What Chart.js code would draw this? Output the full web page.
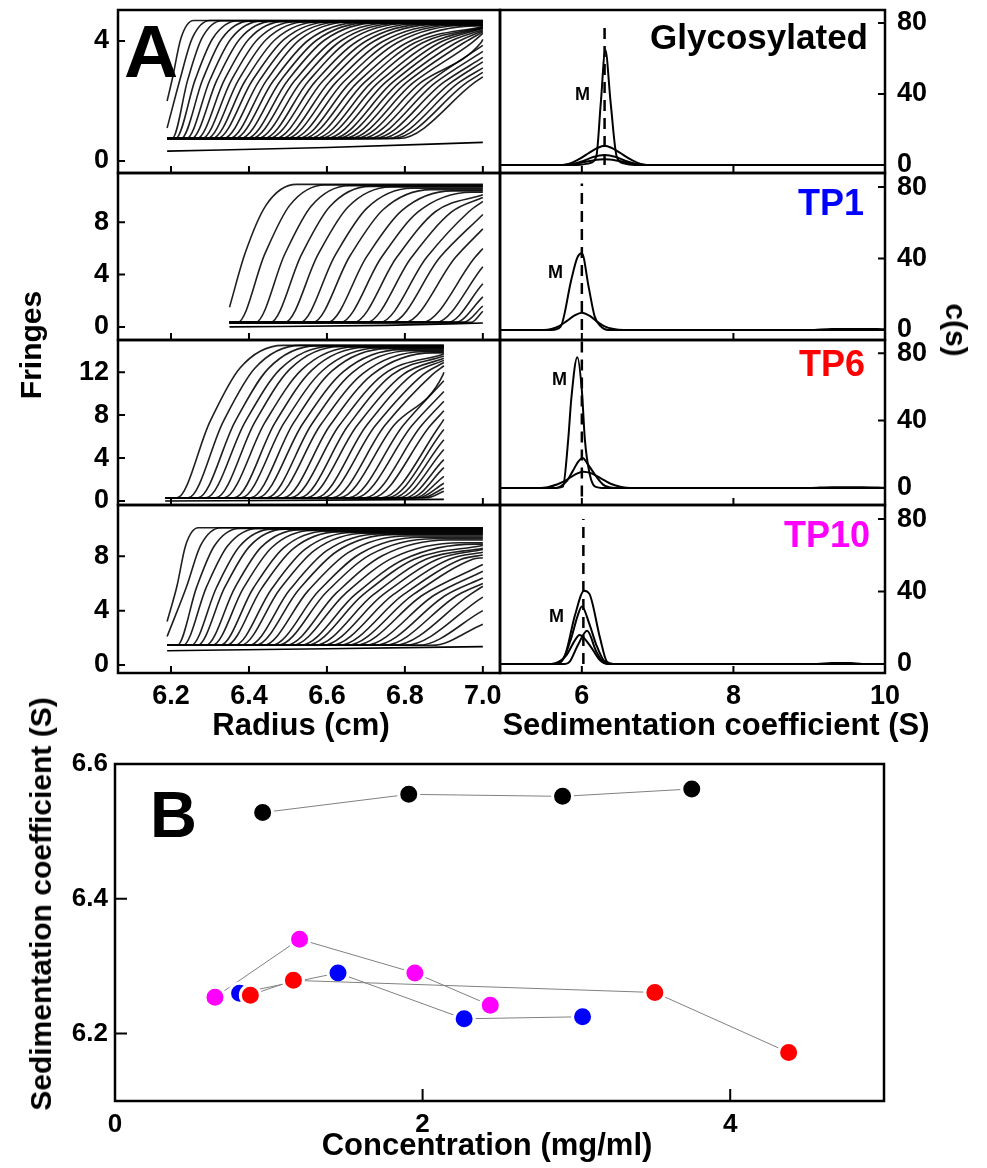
<!DOCTYPE html>
<html>
<head>
<meta charset="utf-8">
<title>Sedimentation velocity of glycosylated and TP samples</title>
<script src="https://cdn.jsdelivr.net/npm/chart.js@4.4.1/dist/chart.umd.min.js"></script>
<style>
  body { margin: 0; background: #fff; }
  #page { position: relative; width: 987px; height: 1168px; overflow: hidden;
          font-family: "Liberation Sans", Arial, Helvetica, sans-serif; font-weight: bold; }
  #page canvas { position: absolute; }
  .t { position: absolute; line-height: 1; white-space: nowrap; }
</style>
</head>
<body>
<div id="page"></div>
<script>
// ---------- tick labels ----------
const radiusTicks = [6.2, 6.4, 6.6, 6.8, 7.0];
const sTicks = [6, 8, 10];
const csTicks = [0, 40, 80];
const concTicks = [0, 2, 4];
const sedTicks = [6.2, 6.4, 6.6];

// ---------- interference scans (radius cm -> fringes) ----------
// boundary midpoint, boundary width and value at the last radius of every scan
const glyMid = [6.203, 6.223, 6.243, 6.262, 6.281, 6.3, 6.318, 6.337, 6.355, 6.373, 6.391, 6.409, 6.427, 6.445,
  6.463, 6.481, 6.499, 6.517, 6.535, 6.553, 6.571, 6.589, 6.607, 6.625, 6.643, 6.661, 6.679, 6.697, 6.715,
  6.733, 6.751, 6.769, 6.787, 6.805, 6.823, 6.842, 6.861, 6.88, 6.9, 6.92, 6.94, 6.96, 6.98];
const glySpan = [0.05, 0.07, 0.08, 0.1, 0.11, 0.12, 0.13, 0.14, 0.15, 0.16, 0.17, 0.18, 0.185, 0.19, 0.2,
  0.205, 0.21, 0.22, 0.225, 0.23, 0.24, 0.245, 0.25, 0.26, 0.265, 0.27, 0.28, 0.285, 0.29, 0.3, 0.305, 0.31,
  0.32, 0.325, 0.33, 0.34, 0.345, 0.35, 0.36, 0.365, 0.37, 0.38, 0.39];
const glyEnd = [4.68, 4.68, 4.67, 4.67, 4.66, 4.66, 4.65, 4.65, 4.64, 4.64, 4.63, 4.63, 4.62, 4.62, 4.61, 4.6,
  4.6, 4.59, 4.58, 4.58, 4.57, 4.56, 4.55, 4.54, 4.53, 4.52, 4.5, 4.48, 4.46, 4.44, 4.42, 4.38, 4.34, 4.3,
  4.25, 4.05, 3.85, 3.65, 3.45, 3.3, 3.1, 2.95, 2.8];
const glyStart = [2.0, 1.1];
const glyFloor = [[6.19, 0.33], [6.6, 0.45], [7.0, 0.62]];

const tp1Mid = [6.39, 6.441, 6.492, 6.535, 6.577, 6.621, 6.659, 6.702, 6.74, 6.779, 6.817, 6.856, 6.89, 6.93,
  6.98, 7.03, 7.08, 7.12, 7.16, 7.2];
const tp1Span = [0.12, 0.14, 0.15, 0.16, 0.17, 0.18, 0.19, 0.2, 0.21, 0.22, 0.23, 0.24, 0.25, 0.26, 0.27,
  0.3, 0.34, 0.38, 0.42, 0.46];
const tp1End = [10.9, 10.85, 10.8, 10.75, 10.7, 10.6, 10.5, 10.4, 10.3, 10.1, 9.9, 9.6, 8.6, 7.5, 6.0, 4.6,
  3.3, 2.3, 1.6, 1.2];
const tp1Start = [1.5];
const tp1Floor = [[6.35, 0.0], [6.75, 0.12], [7.0, 0.3]];

const tp6Mid = [6.30, 6.334, 6.364, 6.39, 6.415, 6.441, 6.467, 6.49, 6.514, 6.538, 6.561, 6.584, 6.608, 6.632,
  6.655, 6.678, 6.702, 6.725, 6.749, 6.772, 6.796, 6.819, 6.843, 6.866, 6.89, 6.915, 6.94, 6.965, 6.99, 7.015,
  7.04, 7.065, 7.09, 7.115];
const tp6Span = [0.17, 0.18, 0.19, 0.2, 0.2, 0.21, 0.21, 0.22, 0.22, 0.23, 0.23, 0.24, 0.24, 0.25, 0.25, 0.26,
  0.26, 0.27, 0.27, 0.28, 0.28, 0.29, 0.29, 0.3, 0.3, 0.32, 0.34, 0.36, 0.38, 0.4, 0.43, 0.46, 0.49, 0.52];
const tp6End = [14.5, 14.5, 14.45, 14.4, 14.4, 14.35, 14.3, 14.25, 14.2, 14.1, 14.0, 13.9, 13.8, 13.7, 13.5,
  13.3, 13.1, 12.9, 12.6, 12.0, 11.2, 10.2, 9.3, 8.4, 7.6, 6.65, 5.7, 4.8, 3.85, 3.1, 2.3, 1.65, 1.2, 0.9];
const tp6Start = [];
const tp6Floor = [[6.185, 0.0], [6.6, 0.08], [6.9, 0.15]];

const tp10Mid = [6.215, 6.24, 6.266, 6.291, 6.317, 6.338, 6.364, 6.386, 6.411, 6.432, 6.458, 6.479, 6.505,
  6.527, 6.552, 6.578, 6.599, 6.625, 6.646, 6.672, 6.693, 6.719, 6.744, 6.77, 6.796, 6.821, 6.847, 6.877,
  6.907, 6.937, 6.967, 7.0, 7.04, 7.08];
const tp10Span = [0.05, 0.08, 0.1, 0.12, 0.13, 0.14, 0.15, 0.16, 0.17, 0.18, 0.19, 0.2, 0.21, 0.22, 0.23, 0.24,
  0.25, 0.26, 0.27, 0.28, 0.29, 0.3, 0.31, 0.32, 0.33, 0.34, 0.35, 0.36, 0.37, 0.38, 0.39, 0.4, 0.41, 0.42];
const tp10End = [10.1, 10.1, 10.05, 10.05, 10.0, 10.0, 9.95, 9.9, 9.85, 9.8, 9.75, 9.7, 9.65, 9.6, 9.5, 9.4,
  9.3, 9.2, 9.0, 8.9, 8.8, 8.6, 8.5, 8.3, 8.1, 7.9, 7.4, 6.9, 6.4, 6.0, 5.8, 5.0, 4.0, 3.0];
const tp10Start = [3.2, 2.1];
const tp10Floor = [[6.19, 1.05], [6.6, 1.2], [7.0, 1.35]];

// ---------- c(s) distributions (S -> c(s)) ----------
const glyCs = [
  [[4.92, 0], [5.95, 0], [6.1, 1], [6.19, 4.7], [6.25, 35], [6.31, 64.8], [6.38, 35], [6.46, 4.7], [6.55, 1], [6.7, 0], [10, 0]],
  [[4.92, 0], [5.75, 0], [5.95, 3], [6.1, 7], [6.2, 9.5], [6.3, 10.9], [6.4, 9.5], [6.5, 7], [6.65, 3], [6.85, 0], [10, 0]],
  [[4.92, 0], [5.8, 0], [6.0, 2], [6.15, 4.5], [6.3, 5.6], [6.45, 4.5], [6.6, 2], [6.8, 0], [10, 0]],
  [[4.92, 0], [5.7, 0], [5.95, 1], [6.15, 2.6], [6.3, 3.2], [6.45, 2.6], [6.65, 1], [6.9, 0], [10, 0]]
];
const tp1Cs = [
  [[4.92, 0], [5.6, 0], [5.72, 1.9], [5.86, 28], [5.94, 40.5], [6.0, 43], [6.09, 24], [6.17, 7.5], [6.25, 2], [6.35, 0], [10, 0]],
  [[4.92, 0], [5.5, 0], [5.6, 0.6], [5.7, 2.2], [5.8, 5], [5.9, 8], [6.0, 9.7], [6.1, 8], [6.2, 4.7], [6.3, 2],
   [6.42, 0.5], [6.55, 0], [9.0, 0], [9.3, 0.6], [9.9, 0.6], [10, 0.4]]
];
const tp6Cs = [
  [[4.92, 0], [5.65, 0], [5.75, 0.8], [5.82, 28.7], [5.86, 52.5], [5.94, 77.5], [6.0, 58], [6.04, 28.7], [6.1, 9], [6.17, 1], [6.3, 0], [10, 0]],
  [[4.92, 0], [5.65, 0], [5.72, 1], [5.8, 4], [5.88, 10], [5.95, 15.5], [6.01, 17.8], [6.08, 14], [6.19, 6.8], [6.28, 2], [6.36, 0.5], [6.45, 0], [10, 0]],
  [[4.92, 0], [5.45, 0], [5.55, 0.5], [5.68, 2.2], [5.8, 4.8], [5.92, 8.2], [6.02, 9.7], [6.12, 8.8], [6.24, 6], [6.38, 2.5],
   [6.52, 0.6], [6.65, 0], [9.0, 0], [9.3, 0.5], [9.7, 0.5], [10, 0.2]]
];
const tp10Cs = [
  [[4.92, 0], [5.6, 0], [5.67, 0.8], [5.78, 5], [5.91, 27], [6.03, 40.5], [6.1, 38.7], [6.24, 14.3], [6.33, 1.3], [6.42, 0], [10, 0]],
  [[4.92, 0], [5.6, 0], [5.73, 1.3], [5.86, 14.3], [5.94, 26], [6.0, 31.8], [6.1, 22], [6.19, 10.6], [6.3, 1.3], [6.4, 0], [10, 0]],
  [[4.92, 0], [5.78, 0], [5.84, 1.3], [5.95, 10.6], [6.07, 18.3], [6.19, 6.9], [6.3, 0.5], [6.4, 0], [10, 0]],
  [[4.92, 0], [5.6, 0], [5.69, 0.8], [5.8, 5], [5.9, 12.5], [5.97, 16], [6.1, 10.6], [6.24, 2], [6.35, 0],
   [9.1, 0], [9.3, 0.5], [9.55, 0.5], [9.7, 0], [10, 0]]
];
// dashed marker: position, from, to
const glyDash = [6.30, 0, 80.6];
const tp1Dash = [6.0, 0, 82];
const tp6Dash = [6.0, -5, 88];
const tp10Dash = [6.02, 0, 80];

// ---------- panel B: s versus loading concentration ----------
const concGly = [0.96, 1.91, 2.91, 3.75];
const sGly = [6.528, 6.555, 6.552, 6.563];
const concTP1 = [0.81, 1.45, 2.27, 3.04];
const sTP1 = [6.26, 6.29, 6.222, 6.225];
const concTP6 = [0.88, 1.16, 3.51, 4.38];
const sTP6 = [6.257, 6.279, 6.261, 6.172];
const concTP10 = [0.65, 1.20, 1.95, 2.44];
const sTP10 = [6.254, 6.340, 6.290, 6.242];

// =====================================================================
const page = document.getElementById('page');
const FONT = '"Liberation Sans", Arial, Helvetica, sans-serif';
Chart.defaults.font.family = FONT;
Chart.defaults.color = '#000';

// frame box + inward tick marks
const frame = {
  id: 'frame',
  afterDraw(chart, args, o) {
    const {ctx, chartArea: a, scales} = chart;
    ctx.save();
    ctx.strokeStyle = '#000';
    ctx.lineWidth = 2.5;
    ctx.strokeRect(a.left, a.top, a.right - a.left, a.bottom - a.top);
    ctx.lineWidth = 2;
    ctx.beginPath();
    (o.xt || []).forEach(v => {
      const p = scales.x.getPixelForValue(v);
      ctx.moveTo(p, a.bottom);
      ctx.lineTo(p, a.bottom - o.len);
    });
    (o.yt || []).forEach(v => {
      const p = scales.y.getPixelForValue(v);
      if (o.side === 'right') { ctx.moveTo(a.right, p); ctx.lineTo(a.right - o.len, p); }
      else { ctx.moveTo(a.left, p); ctx.lineTo(a.left + o.len, p); }
    });
    ctx.stroke();
    ctx.restore();
  }
};

function axis(range, labels, show, pad, size, dec, horiz, position) {
  return {
    type: 'linear', position: position, min: range[0], max: range[1],
    grid: {display: false, drawTicks: false, tickLength: 0},
    border: {display: false},
    ticks: {display: show, padding: pad, color: '#000', font: {size: size, weight: 'bold'},
            maxRotation: 0, autoSkip: false, callback: v => Number(v).toFixed(dec)},
    afterBuildTicks: s => { s.ticks = labels.map(v => ({value: v})); },
    afterFit: s => { if (horiz) s.height = 45; else s.width = 50; }
  };
}

function makeChart(box, o) {
  const M = 60, YW = 50, XH = 45;
  const cv = document.createElement('canvas');
  cv.width = box.w + 2 * M;
  cv.height = box.h + 2 * M;
  cv.style.left = (box.x - M) + 'px';
  cv.style.top = (box.y - M) + 'px';
  page.appendChild(cv);
  const right = o.ySide === 'right';
  return new Chart(cv, {
    type: 'scatter',
    data: {datasets: o.datasets},
    options: {
      responsive: false, animation: false, events: [],
      layout: {padding: {left: right ? M : M - YW, right: right ? M - YW : M, top: M, bottom: M - XH}},
      plugins: {
        legend: {display: false}, tooltip: {enabled: false},
        frame: {xt: o.xMarks, yt: o.yMarks, side: o.ySide, len: o.len || 7}
      },
      scales: {
        x: axis(o.x, o.xLabels, o.xShow, o.xPad || 7, o.size || 27, o.xDec, true, 'bottom'),
        y: axis(o.y, o.yLabels, true, o.yPad || 9, o.size || 27, o.yDec, false, right ? 'right' : 'left')
      }
    },
    plugins: [frame]
  });
}

function xy(pairs) { return pairs.map(p => ({x: p[0], y: p[1]})); }

// all scans of one cell: meniscus, foot, boundary midpoint, upper knee, plateau shoulder, last radius.
// A scan whose boundary has cleared the cell keeps its end value as plateau; later scans reuse the last one.
function scanCurves(p) {
  let plateauNow = p.top;
  return p.mid.map((mid, i) => {
    const s = p.span[i], end = p.end[i];
    const hasStart = i < p.start.length;
    const foot = mid - 0.5 * s, knee = mid + 0.45 * s, sh = mid + 1.1 * s;
    if (sh < p.r1) plateauNow = end;
    const plateau = plateauNow;
    const midVal = (p.base + plateau) / 2;
    const kneeVal = p.base + 0.85 * (plateau - p.base);
    const pts = [{x: p.r0, y: hasStart ? p.start[i] : p.base}];
    if (!hasStart && foot > p.r0 + 0.004 && foot < p.r1) pts.push({x: foot, y: p.base});
    if (mid > p.r0 && mid < p.r1 && end > midVal) pts.push({x: mid, y: midVal});
    if (knee > p.r0 && knee < p.r1 && end > kneeVal) pts.push({x: knee, y: kneeVal});
    if (sh < p.r1) pts.push({x: sh, y: plateau});
    pts.push({x: p.r1, y: end});
    return pts;
  });
}

const leftX = 118, leftW = 382, rightX = 500, rightW = 385;
const rows = [[10, 163], [173, 167], [340, 165], [505, 168]];

const scanPanels = [
  {r0: 6.19, r1: 7.0, base: 0.75, top: 4.6, mid: glyMid, span: glySpan, end: glyEnd, start: glyStart, floor: glyFloor,
   y: [-0.4, 5.03], yl: [0, 4]},
  {r0: 6.35, r1: 7.0, base: 0.35, top: 10.7, mid: tp1Mid, span: tp1Span, end: tp1End, start: tp1Start, floor: tp1Floor,
   y: [-1.0, 11.77], yl: [0, 4, 8]},
  {r0: 6.185, r1: 6.9, base: 0.3, top: 14.4, mid: tp6Mid, span: tp6Span, end: tp6End, start: tp6Start, floor: tp6Floor,
   y: [-0.375, 15.0], yl: [0, 4, 8, 12]},
  {r0: 6.19, r1: 7.0, base: 1.45, top: 10.0, mid: tp10Mid, span: tp10Span, end: tp10End, start: tp10Start, floor: tp10Floor,
   y: [-0.59, 11.78], yl: [0, 4, 8]}
];
const csPanels = [
  {curves: glyCs, dash: glyDash, y: [-4.5, 87.3]},
  {curves: tp1Cs, dash: tp1Dash, y: [-5.6, 87.9]},
  {curves: tp6Cs, dash: tp6Dash, y: [-10.1, 87.8]},
  {curves: tp10Cs, dash: tp10Dash, y: [-5, 87.8]}
];

scanPanels.forEach((p, r) => {
  const ds = scanCurves(p).map(pts => ({
    data: pts, showLine: true, pointRadius: 0,
    borderColor: 'rgba(0,0,0,0.88)', borderWidth: 1.6, cubicInterpolationMode: 'monotone'
  }));
  ds.push({data: xy(p.floor), showLine: true, pointRadius: 0, borderColor: '#000', borderWidth: 1.6,
           cubicInterpolationMode: 'monotone'});
  makeChart({x: leftX, y: rows[r][0], w: leftW, h: rows[r][1]}, {
    datasets: ds, x: [6.064, 7.044], xLabels: radiusTicks, xMarks: radiusTicks, xShow: r === 3, xDec: 1,
    y: p.y, yLabels: p.yl, yMarks: p.yl, yDec: 0, ySide: 'left'
  });
});

csPanels.forEach((p, r) => {
  const ds = p.curves.map(c => ({
    data: xy(c), showLine: true, pointRadius: 0, borderColor: '#000', borderWidth: 2,
    cubicInterpolationMode: 'monotone'
  }));
  ds.push({data: [{x: p.dash[0], y: p.dash[1]}, {x: p.dash[0], y: p.dash[2]}], showLine: true, pointRadius: 0,
           borderColor: '#000', borderWidth: 2.5, borderDash: [11, 7]});
  makeChart({x: rightX, y: rows[r][0], w: rightW, h: rows[r][1]}, {
    datasets: ds, x: [4.92, 10], xLabels: sTicks, xMarks: [6, 8], xShow: r === 3, xDec: 0,
    y: p.y, yLabels: csTicks, yMarks: csTicks, yDec: 0, ySide: 'right', yPad: 12
  });
});

function bSeries(xs, ys, color) {
  return {
    data: xs.map((x, i) => ({x: x, y: ys[i]})), showLine: true,
    borderColor: '#808080', borderWidth: 1,
    pointRadius: 10, pointBorderWidth: 3, pointBorderColor: '#fff', pointBackgroundColor: color
  };
}
makeChart({x: 115, y: 764, w: 769, h: 337}, {
  datasets: [
    bSeries(concTP6, sTP6, '#ff0000'),
    bSeries(concTP1, sTP1, '#0000ff'),
    bSeries(concTP10, sTP10, '#ff00ff'),
    bSeries(concGly, sGly, '#000000')
  ],
  x: [0, 5], xLabels: concTicks, xMarks: [2, 4], xShow: true, xDec: 0, xPad: 8,
  y: [6.1, 6.6], yLabels: sedTicks, yMarks: [6.2, 6.4], yDec: 1, yPad: 7,
  ySide: 'left', size: 26, len: 12
});

// ---------- text ----------
function text(str, x, base, size, align, color) {
  const d = document.createElement('div');
  d.className = 't';
  d.textContent = str;
  d.style.fontSize = size + 'px';
  d.style.color = color || '#000';
  d.style.top = (base - 0.8465 * size) + 'px';
  if (align === 'right') d.style.right = (987 - x) + 'px';
  else if (align === 'center') { d.style.left = x + 'px'; d.style.transform = 'translateX(-50%)'; }
  else d.style.left = x + 'px';
  page.appendChild(d);
}
function vtext(str, cx, cy, size, deg) {
  const d = document.createElement('div');
  d.className = 't';
  d.textContent = str;
  d.style.fontSize = size + 'px';
  d.style.left = cx + 'px';
  d.style.top = cy + 'px';
  d.style.transform = 'translate(-50%,-50%) rotate(' + deg + 'deg)';
  page.appendChild(d);
}

text('A', 124, 77, 75, 'left');
text('Glycosylated', 868, 49, 35, 'right');
text('TP1', 864, 215, 36, 'right', '#0000ff');
text('TP6', 865, 376, 36, 'right', '#ff0000');
text('TP10', 870, 547, 36, 'right', '#ff00ff');
text('M', 575, 100, 18, 'left');
text('M', 548, 278, 18, 'left');
text('M', 552, 385, 18, 'left');
text('M', 549, 622, 18, 'left');
vtext('Fringes', 31, 345, 30, -90);
vtext('c(s)', 956, 330, 30, 90);
text('Radius (cm)', 301, 735, 31, 'center');
text('Sedimentation coefficient (S)', 716, 735, 31, 'center');
text('B', 150, 837, 65, 'left');
vtext('Sedimentation coefficient (S)', 41, 904, 30, -90);
text('Concentration (mg/ml)', 487, 1155, 31, 'center');
</script>
</body>
</html>
